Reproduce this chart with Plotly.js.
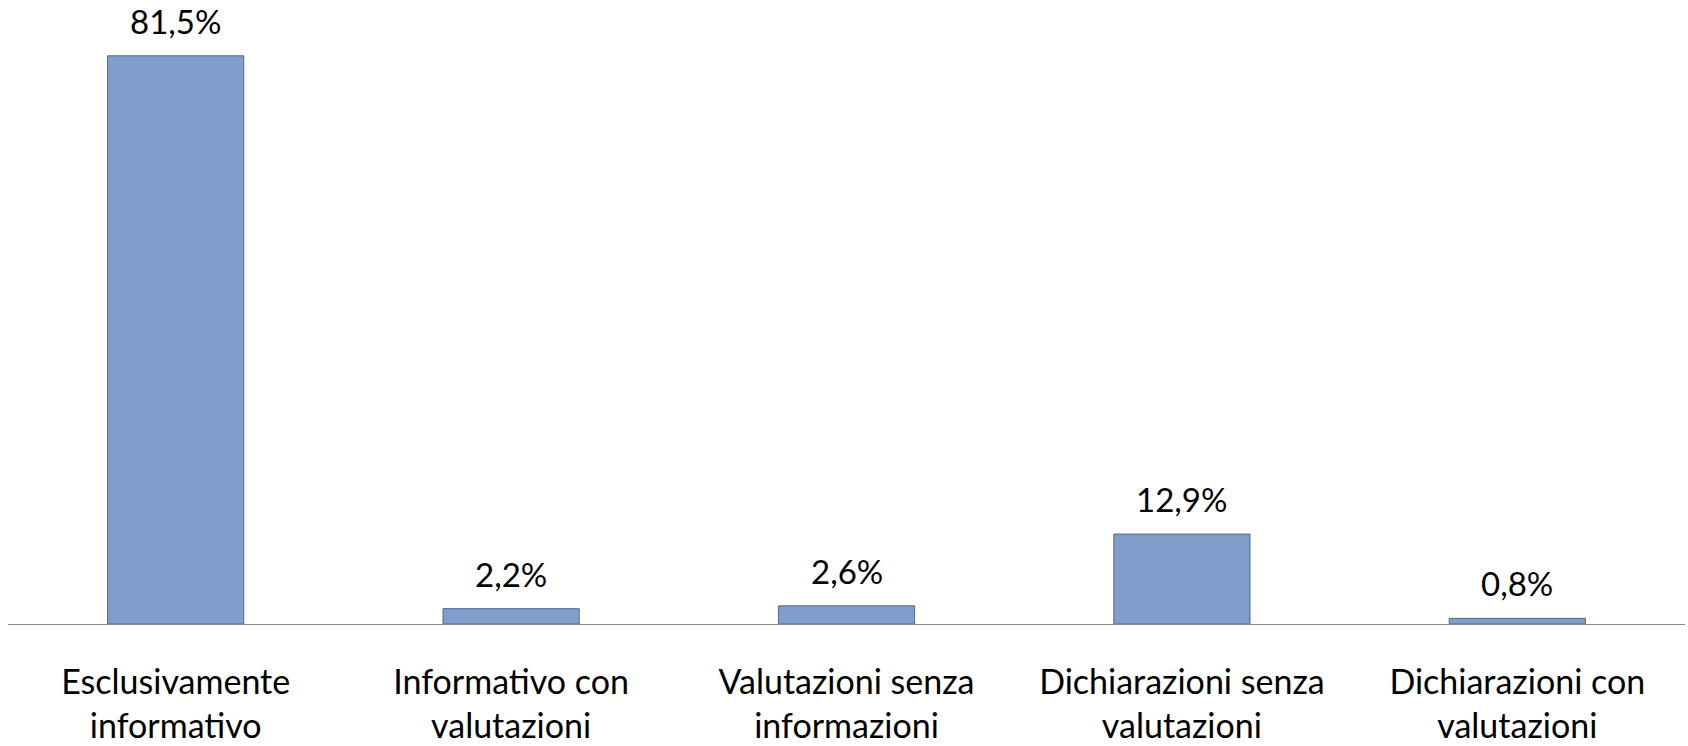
<!DOCTYPE html>
<html>
<head>
<meta charset="utf-8">
<script src="https://cdn.plot.ly/plotly-3.0.1.min.js"></script>
<style>
  html, body { margin: 0; padding: 0; background: #fff; }
  #chart { width: 1688px; height: 746px; }
</style>
</head>
<body>
<div id="chart"></div>
<script>
// categories (two lines each) and shares in %
const categories = [
    'Esclusivamente<br>informativo',
    'Informativo con<br>valutazioni',
    'Valutazioni senza<br>informazioni',
    'Dichiarazioni senza<br>valutazioni',
    'Dichiarazioni con<br>valutazioni'
];
const shares = [81.5, 2.2, 2.6, 12.9, 0.8];
const shareLabels = ['81,5%', '2,2%', '2,6%', '12,9%', '0,8%'];

const FONT = 'Lato, "Open Sans", sans-serif';

const trace = {
    type: 'bar',
    x: categories,
    y: shares,
    marker: {
        color: '#819dcc',
        line: { color: '#55688c', width: 1 }
    },
    hoverinfo: 'skip'
};

// value labels above bars
const annotations = categories.map((c, i) => ({
    x: c,
    y: shares[i],
    text: shareLabels[i],
    showarrow: false,
    xanchor: 'center',
    yanchor: 'bottom',
    yshift: 13,
    font: { family: FONT, size: 33, color: '#000' }
}));

const layout = {
    width: 1688,
    height: 746,
    margin: { t: 30, r: 3, b: 122, l: 8 },
    paper_bgcolor: '#fff',
    plot_bgcolor: '#fff',
    showlegend: false,
    bargap: 0.594,
    font: { family: FONT, color: '#000' },
    xaxis: {
        type: 'category',
        showline: true,
        linecolor: '#8c8c8c',
        linewidth: 1,
        showgrid: false,
        zeroline: false,
        ticks: '',
        ticklabelstandoff: 28,
        tickfont: { family: FONT, size: 34, color: '#000' }
    },
    yaxis: {
        range: [0, 85.2],
        visible: false,
        showgrid: false,
        zeroline: false
    },
    annotations: annotations
};

Plotly.newPlot('chart', [trace], layout, { displayModeBar: false, staticPlot: true });
</script>
</body>
</html>
